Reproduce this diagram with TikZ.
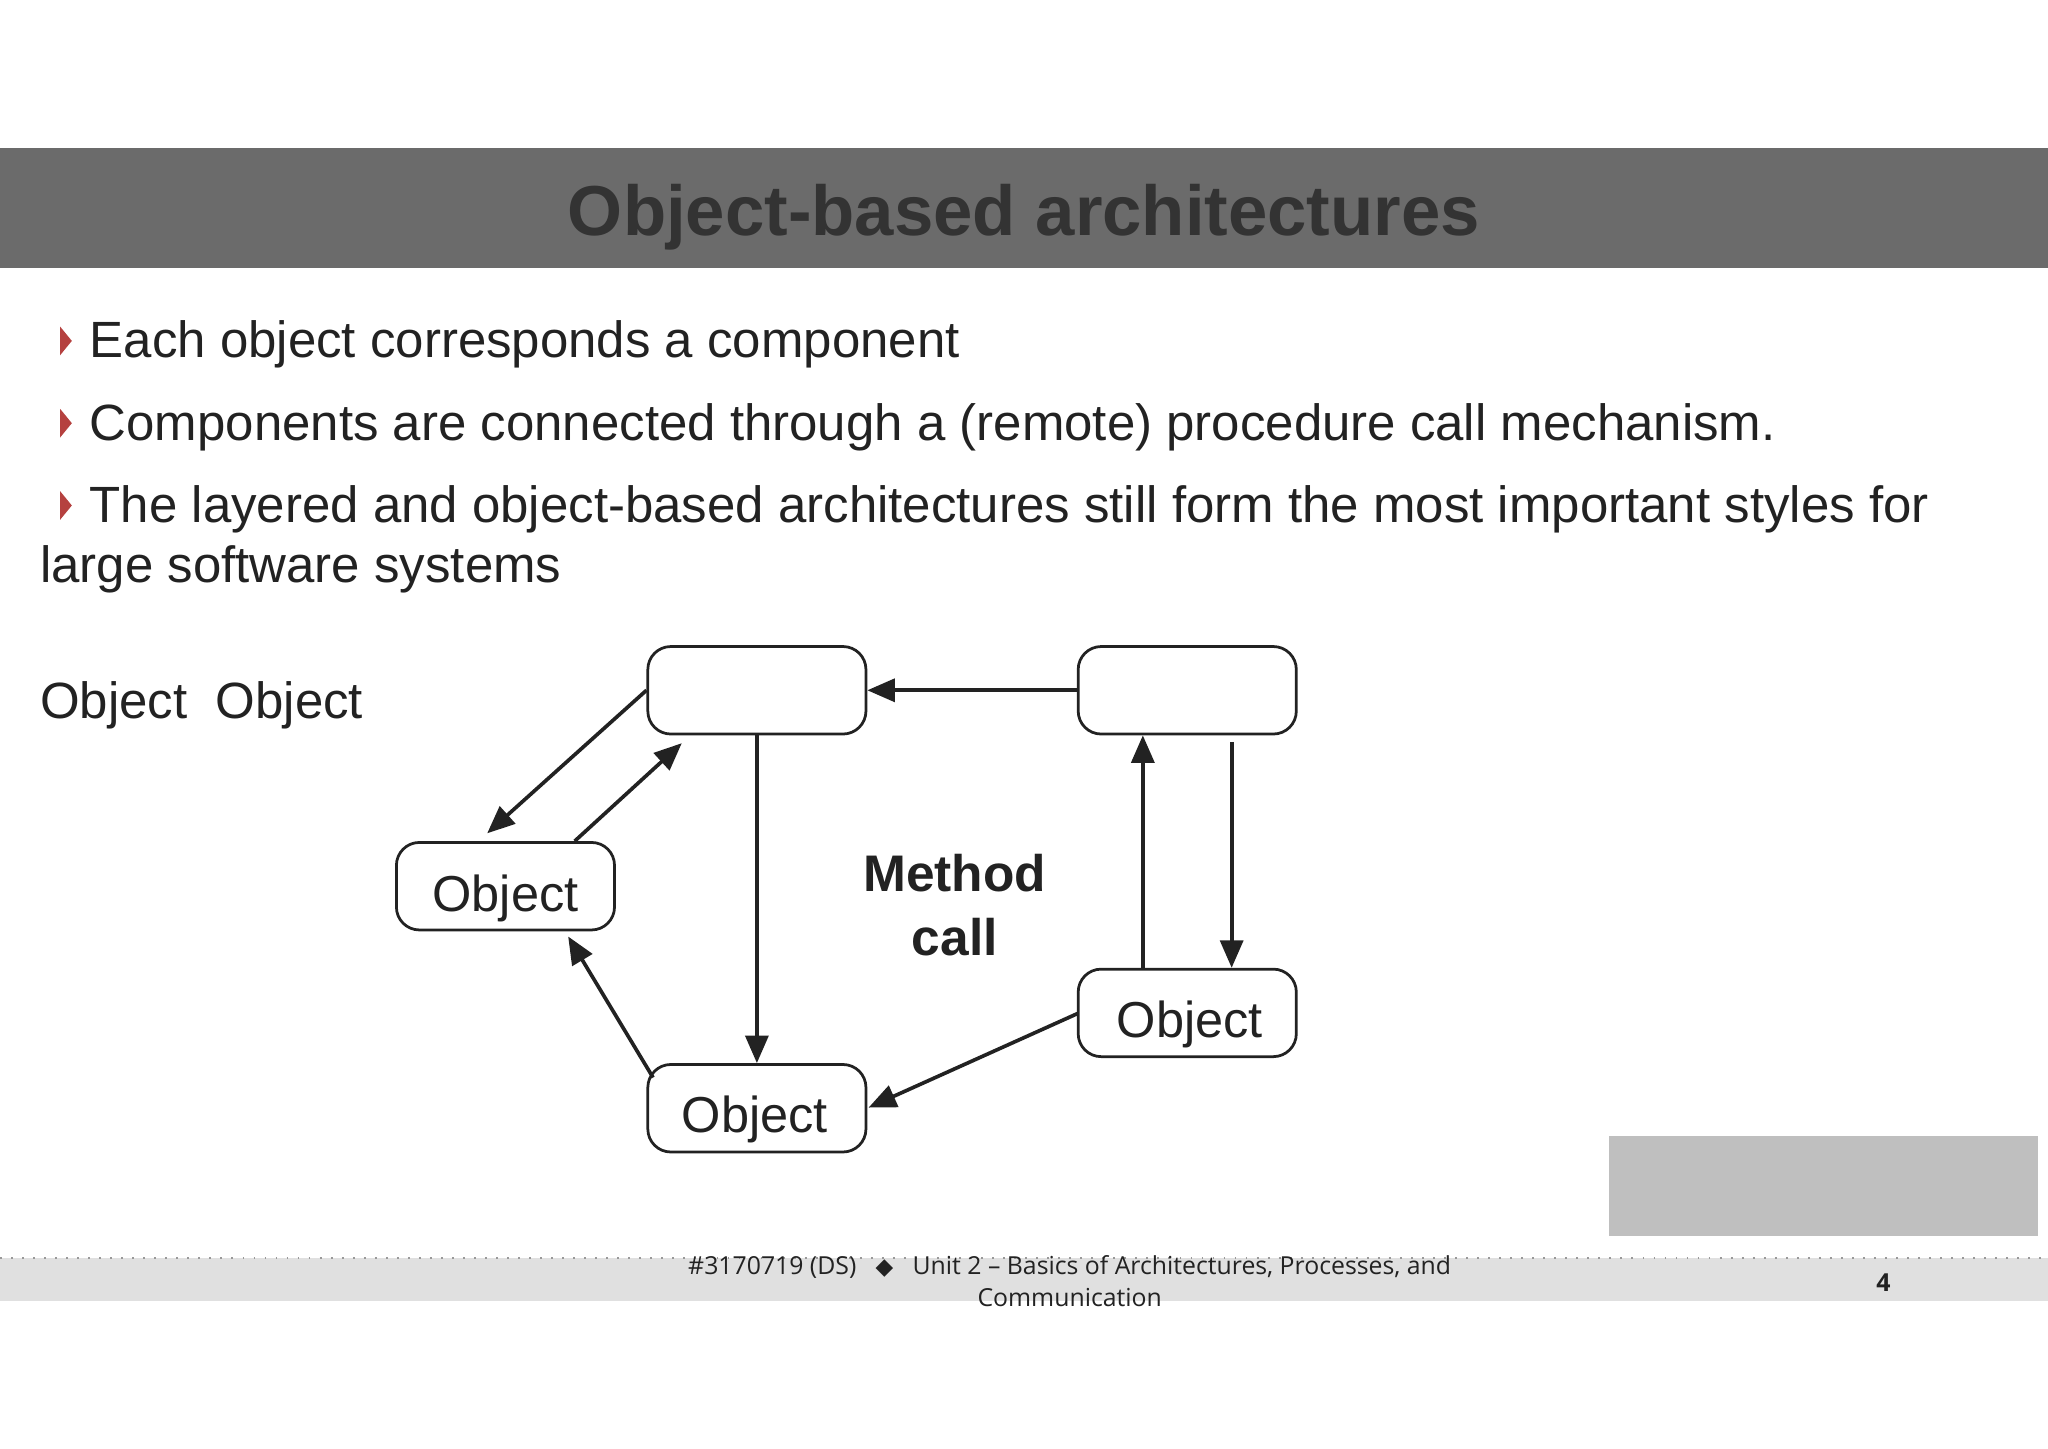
\documentclass[tikz,border=0pt]{standalone}
\usepackage{fontspec}
\setmainfont{Liberation Sans}
\newfontfamily\footfont{Open Sans}
\newfontfamily\symfont{DejaVu Sans}
\usetikzlibrary{arrows.meta}
\definecolor{band}{HTML}{6B6B6B}
\definecolor{bul}{HTML}{B5413F}
\definecolor{txt}{HTML}{222222}
\begin{document}
\begin{tikzpicture}[x=0.01cm,y=-0.01cm,
  obj/.style={draw=txt,line width=0.6pt,rounded corners=5pt,minimum width=167*0.01cm,minimum height=67*0.01cm,inner sep=0pt,text=txt},
  lbl/.style={font=\fontsize{11}{13}\selectfont,text=txt},
  arr/.style={draw=txt,line width=0.8pt,-{Triangle[length=6pt,width=5pt]}},
  bt/.style={anchor=base west,inner sep=0pt,font=\fontsize{11.1}{14}\selectfont,text=txt}]
\useasboundingbox (0,0) rectangle (1568,1109);
\fill[band] (0,113) rectangle (1568,205);
\node[font=\bfseries\fontsize{15.4}{18}\selectfont,text=black!80] (title) at (784,166) {Object-based architectures};
\foreach \yy in {262,325,388}{
  \fill[bul] (46,\yy-12) -- (55,\yy-1) -- (46,\yy+10) -- cycle;}
\node[bt] (t1) at (68,274) {Each object corresponds a component};
\node[bt] (t2) at (68,337) {Components are connected through a (remote) procedure call mechanism.};
\node[bt] (t3) at (68,400) {The layered and object-based architectures still form the most important styles for};
\node[bt] (t4) at (30,446) {large software systems};
\node[bt] (t5) at (30,550) {Object\ \ Object};
\node[obj] (A) at (579.5,528.5) {};
\node[obj] (B) at (909,528.5) {};
\node[obj] (C) at (387,678.5) {};
\node[obj] (D) at (909,775.5) {};
\node[obj] (E) at (579.5,848.5) {};
\node[lbl] (Cl) at (387,688) {Object};
\node[lbl] (Dl) at (911,784) {Object};
\node[lbl] (El) at (578,857) {Object};
\node[font=\bfseries\fontsize{11.2}{14}\selectfont,align=center,text=txt] (M) at (731,693) {Method\\call};
\draw[arr] (B.west) -- (A.east);
\draw[arr] (A.west) -- (373,638);
\draw[arr] (440,644) -- (522,569);
\draw[arr] (A.south) -- (E.north);
\draw[arr] (500,825) -- (435,717);
\draw[arr] (825,776) -- (665,848);
\draw[arr] (875,742) -- (875,563);
\draw[arr] (943,568) -- (943,741);
\fill[black!25] (1232,870) rectangle (1560,946);
\fill[black!12] (0,963) rectangle (1568,996);
\draw[black!40,dotted] (0,963) -- (1568,963);
\node[font=\footfont\fontsize{5.4}{7}\selectfont,text=txt,align=center] (F) at (819,981) {\#3170719 (DS)\ \ \ {\symfont\tiny◆}\ \ \ Unit 2 – Basics of Architectures, Processes, and\\Communication};
\node[font=\footfont\bfseries\fontsize{5.4}{7}\selectfont,text=txt] (P) at (1442,982) {4};
\end{tikzpicture}
\end{document}
